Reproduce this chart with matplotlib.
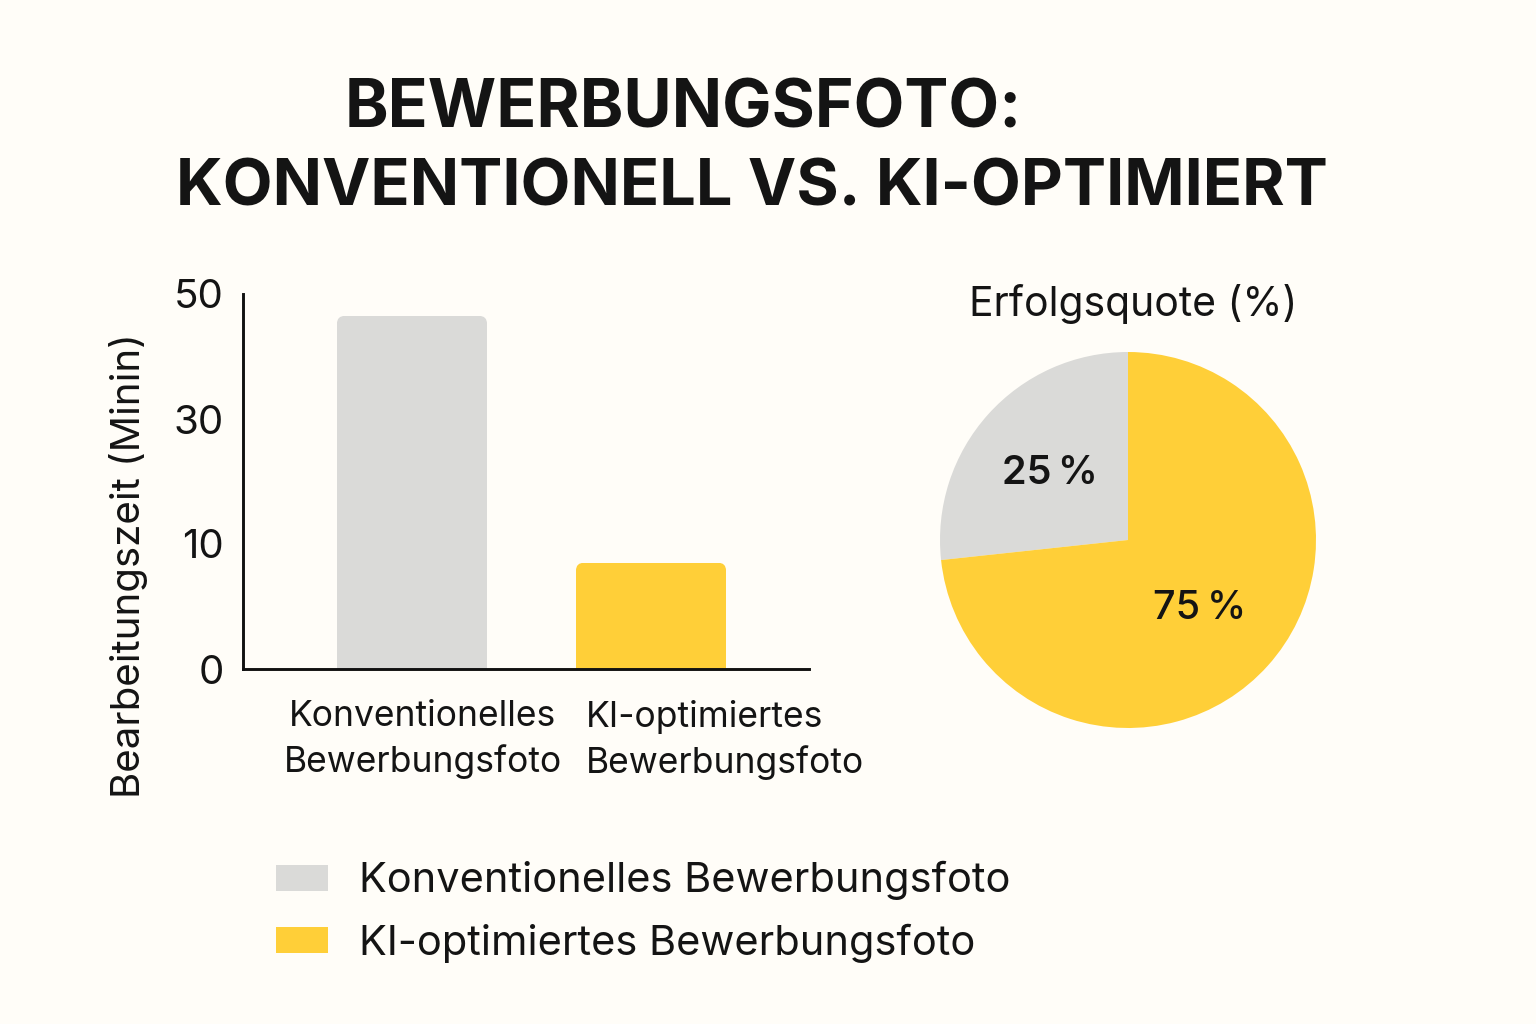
import numpy as np
import matplotlib
matplotlib.use("Agg")
import matplotlib.pyplot as plt
from matplotlib.patches import FancyBboxPatch, Patch
from matplotlib.transforms import IdentityTransform

title_lines = ["BEWERBUNGSFOTO:", "KONVENTIONELL VS. KI-OPTIMIERT"]
bar_categories = ["Konventionelles\nBewerbungsfoto", "KI-optimiertes\nBewerbungsfoto"]
bar_values = [46.5, 8.5]
y_ticks = [0, 10, 30, 50]
y_label = "Bearbeitungszeit (Minin)"
pie_title = "Erfolgsquote (%)"
pie_values = [26.7, 73.3]
pie_labels = ["25\u2009%", "75\u2009%"]
legend_labels = ["Konventionelles Bewerbungsfoto", "KI-optimiertes Bewerbungsfoto"]

GRAY = "#DADAD8"
YELLOW = "#FFCF38"
BG = "#FFFDF8"
INK = "#141414"
W, H = 1536, 1024

plt.rcParams["font.family"] = ["Inter", "DejaVu Sans"]
fig = plt.figure(figsize=(W / 100, H / 100), dpi=100, facecolor=BG)


def box(x0, y0, x1, y1):
    return [x0 / W, 1 - y1 / H, (x1 - x0) / W, (y1 - y0) / H]


fig.text(683 / W, 1 - 110 / H, title_lines[0], ha="center", va="center",
         fontsize=47.5, fontweight="bold", color=INK)
fig.text(752 / W, 1 - 188 / H, title_lines[1], ha="center", va="center",
         fontsize=46.7, fontweight="bold", color=INK)

# bar chart: the reference's y axis spaces 0, 10, 30, 50 evenly
ax = fig.add_axes(box(243, 294, 809, 669), facecolor="none")
ax.set_yscale("function", functions=(
    lambda v: np.interp(v, y_ticks, np.arange(len(y_ticks))),
    lambda p: np.interp(p, np.arange(len(y_ticks)), y_ticks)))
bars = ax.bar([0, 1], bar_values, width=0.628, color=[GRAY, YELLOW], zorder=1)
ax.set_xlim(-0.707, 1.661)
ax.set_ylim(0, 50)
ax.set_yticks(y_ticks)
ax.set_yticklabels([str(t) for t in y_ticks])
ax.minorticks_off()
ax.tick_params(axis="y", length=0, pad=14, labelsize=29, labelcolor=INK)
ax.tick_params(axis="x", length=0, pad=22, labelsize=25.5, labelcolor=INK)
ax.set_xticks([0.046, 1.31])
ax.set_xticklabels(bar_categories, linespacing=1.4)
ax.get_xticklabels()[1].set_multialignment("left")
for s in ("top", "right"):
    ax.spines[s].set_visible(False)
for s in ("left", "bottom"):
    ax.spines[s].set_linewidth(2.1)
    ax.spines[s].set_color("#111111")
    ax.spines[s].set_zorder(3)
ax.set_ylabel(y_label, fontsize=29, color=INK)
ax.yaxis.set_label_coords((148 - 243) / 566, (669 - 566) / 375)

# rounded top corners
fig.canvas.draw()
for b in bars:
    e = b.get_window_extent()
    clip = FancyBboxPatch((e.x0 + 8, e.y0 - 30), e.width - 16, e.height + 30 - 8,
                          boxstyle="round,pad=8,rounding_size=8",
                          transform=IdentityTransform())
    b.set_clip_path(clip)

# pie
pax = fig.add_axes(box(940, 352, 1316, 728))
wedges, _ = pax.pie(pie_values, colors=[GRAY, YELLOW], startangle=90, radius=1,
                    counterclock=True)
pax.set_xlim(-1, 1)
pax.set_ylim(-1, 1)
for w, lab, dist, wt in zip(wedges, pie_labels, (0.558, 0.515), ("semibold", "medium")):
    a = np.deg2rad((w.theta1 + w.theta2) / 2)
    pax.text(dist * np.cos(a), dist * np.sin(a), lab, ha="center", va="center_baseline",
             fontsize=28.5, color=INK, fontweight=wt)
pax.set_title(pie_title, fontsize=29.4, color=INK, x=0.513, y=1.0, pad=26)

# legend
handles = [Patch(facecolor=GRAY, edgecolor="none"), Patch(facecolor=YELLOW, edgecolor="none")]
fig.legend(handles, legend_labels, loc="upper left",
           bbox_to_anchor=(276 / W, 1 - 861 / H), frameon=False, fontsize=29.9,
           borderaxespad=0, borderpad=0, handlelength=1.25, handleheight=0.58,
           handletextpad=0.75, labelspacing=0.56, labelcolor=INK)

fig.savefig("out.png", dpi=100, facecolor=BG)
